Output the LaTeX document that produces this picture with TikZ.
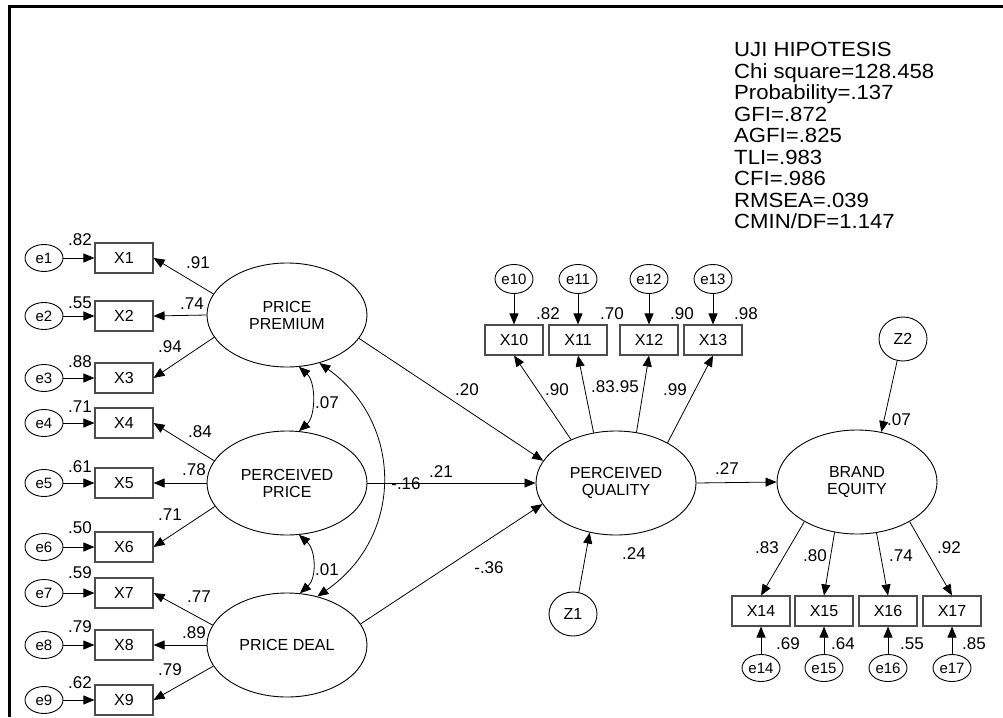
\documentclass[tikz,border=0pt]{standalone}
\usepackage{fontspec}
\setmainfont{Liberation Sans}
\usetikzlibrary{arrows.meta,shapes.geometric}
\begin{document}
\begin{tikzpicture}[x=1pt,y=1pt,
  every node/.style={font=\fontsize{16}{17}\selectfont},
  obs/.style={draw=black!70, line width=1.1pt, minimum width=58pt, minimum height=30pt, inner sep=0pt},
  err/.style={draw, ellipse, line width=0.9pt, minimum width=38pt, minimum height=27pt, inner sep=0pt, font=\fontsize{15}{17}\selectfont},
  lat/.style={draw, ellipse, line width=0.9pt, minimum width=160pt, minimum height=104pt, inner sep=0pt, align=center},
  dist/.style={draw, ellipse, line width=0.9pt, minimum width=48pt, minimum height=44pt, inner sep=0pt},
  arr/.style={line width=0.8pt, -{Triangle[length=11pt,width=9pt]}},
  cov/.style={line width=0.8pt, {Triangle[length=11pt,width=9pt]}-{Triangle[length=11pt,width=9pt]}},
  lab/.style={anchor=base, inner sep=0pt, font=\fontsize{17}{18}\selectfont}
]
\useasboundingbox (0,0) rectangle (1003,-717);
% frame
\draw[line width=3pt] (9,-717) -- (9,-7) -- (1003,-7);

% stats
\node[anchor=north west, inner sep=0pt, align=left, xscale=1.08, transform shape, font=\fontsize{20.5}{21.5}\selectfont] (stats) at (734,-42)
 {UJI HIPOTESIS\\Chi square=128.458\\Probability=.137\\GFI=.872\\AGFI=.825\\TLI=.983\\CFI=.986\\RMSEA=.039\\CMIN/DF=1.147};

% latent
\node[lat] (PP) at (287,-315) {PRICE\\PREMIUM};
\node[lat] (PPr) at (287,-483) {PERCEIVED\\PRICE};
\node[lat] (PD) at (287,-645) {PRICE DEAL};
\node[lat] (PQ) at (616,-483) {PERCEIVED\\QUALITY};
\node[lat] (BE) at (857,-482) {BRAND\\EQUITY};
\node[dist] (Z1) at (573,-614) {Z1};
\node[dist] (Z2) at (903,-339) {Z2};

% left indicators
\foreach \i/\r in {1/258,2/316,3/378,4/423,5/483,6/547,7/593,8/645,9/700}{
  \node[obs] (X\i) at (124,-\r) {X\i};
  \node[err] (e\i) at (44,-\r) {e\i};
  \draw[arr] (e\i) -- (X\i);
}
% top indicators
\foreach \i/\x in {10/514,11/578,12/649,13/713}{
  \node[obs] (X\i) at (\x,-340) {X\i};
  \node[err, minimum height=29pt] (e\i) at (\x,-279) {e\i};
  \draw[arr] (e\i) -- (X\i);
}
% bottom indicators
\foreach \i/\x in {14/761,15/824,16/888,17/952}{
  \node[obs] (X\i) at (\x,-611) {X\i};
  \node[err] (e\i) at (\x,-668) {e\i};
  \draw[arr] (e\i) -- (X\i);
}

% loadings left
\draw[arr] (PP.164) -- (X1.east);
\draw[arr] (PP.180) -- (X2.east);
\draw[arr] (PP.197) -- (X3.east);
\draw[arr] (PPr.163) -- (X4.east);
\draw[arr] (PPr.180) -- (X5.east);
\draw[arr] (PPr.198) -- (X6.east);
\draw[arr] (PD.165) -- (X7.east);
\draw[arr] (PD.180) -- (X8.east);
\draw[arr] (PD.196.5) -- (X9.east);

% loadings PQ
\draw[arr] (PQ.136.7) -- (X10.south);
\draw[arr] (PQ.114) -- (X11.south);
\draw[arr] (PQ.68.6) -- (X12.south);
\draw[arr] (PQ.38.7) -- (X13.south);

% loadings BE
\draw[arr] (BE.217) -- (X14.north);
\draw[arr] (BE.246.7) -- (X15.north);
\draw[arr] (BE.291.4) -- (X16.north);
\draw[arr] (BE.323) -- (X17.north);

% structural
\draw[arr] (PP.342.5) -- (PQ.163.4);
\draw[arr] (PPr.east) -- (PQ.west);
\draw[arr] (PD.16) -- (PQ.196.6);
\draw[arr] (PQ.east) -- (BE.west);
\draw[arr] (Z1.75) -- (PQ.242.5);
\draw[arr] (Z2.255) -- (BE.64.3);

% covariances
\draw[cov] (PP.283) .. controls +(17,-15) and +(17,15) .. (PPr.77);
\draw[cov] (PPr.283.5) .. controls +(17,-15) and +(17,15) .. (PD.76.2);
\draw[cov] (PP.304.8) .. controls +(84,-60) and +(87,60) .. (PD.58.1);

% labels left
\node[lab] (l1) at (80,-245) {.82};
\node[lab] (l2) at (80,-308) {.55};
\node[lab] (l3) at (80,-367) {.88};
\node[lab] (l4) at (80,-412) {.71};
\node[lab] (l5) at (80,-472) {.61};
\node[lab] (l6) at (80,-533) {.50};
\node[lab] (l7) at (80,-578) {.59};
\node[lab] (l8) at (80,-632) {.79};
\node[lab] (l9) at (80,-688) {.62};

\node[lab] (w1) at (198,-268) {.91};
\node[lab] (w2) at (192,-309) {.74};
\node[lab] (w3) at (170,-352) {.94};
\node[lab] (w4) at (200,-437) {.84};
\node[lab] (w5) at (194,-475) {.78};
\node[lab] (w6) at (170,-520) {.71};
\node[lab] (w7) at (199,-602) {.77};
\node[lab] (w8) at (194,-638) {.89};
\node[lab] (w9) at (170,-675) {.79};

\node[lab] (c1) at (327,-408) {.07};
\node[lab] (c2) at (327,-575) {.01};

% structural labels
\node[lab] (s1) at (467,-395) {.20};
\node[lab] (s2) at (441,-477) {.21};
\node[lab] (s3) at (406,-489) {-.16};
\node[lab] (s4) at (489,-573) {-.36};
\node[lab] (s5) at (634,-559) {.24};
\node[lab] (s6) at (727,-474) {.27};
\node[lab] (s7) at (899,-425) {.07};

% top labels
\node[lab] (t1) at (548,-319) {.82};
\node[lab] (t2) at (612,-319) {.70};
\node[lab] (t3) at (682,-319) {.90};
\node[lab] (t4) at (746,-319) {.98};
\node[lab] (q1) at (557,-395) {.90};
\node[lab] (q2) at (603,-392) {.83};
\node[lab] (q3) at (627,-392) {.95};
\node[lab] (q4) at (675,-395) {.99};

% bottom labels
\node[lab] (b1) at (767,-553) {.83};
\node[lab] (b2) at (815,-561) {.80};
\node[lab] (b3) at (901,-561) {.74};
\node[lab] (b4) at (949,-553) {.92};
\node[lab] (r1) at (788,-649) {.69};
\node[lab] (r2) at (843,-649) {.64};
\node[lab] (r3) at (912,-649) {.55};
\node[lab] (r4) at (974,-649) {.85};
\end{tikzpicture}
\end{document}
